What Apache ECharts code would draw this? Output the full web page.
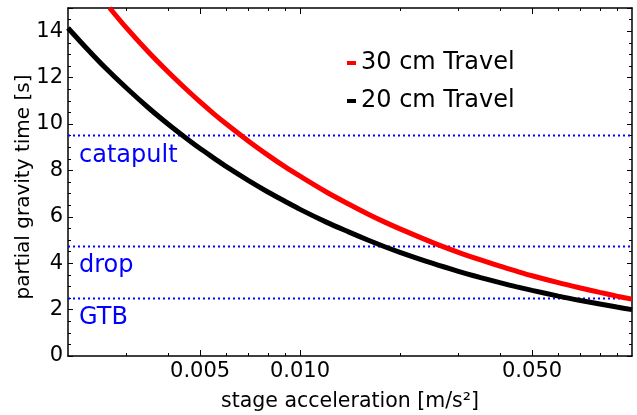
<!DOCTYPE html>
<html>
<head>
<meta charset="utf-8">
<script src="https://cdn.jsdelivr.net/npm/echarts@6/dist/echarts.min.js"></script>
<style>
  html, body { margin: 0; padding: 0; background: #fff; }
  #chart { width: 637px; height: 415px; }
</style>
</head>
<body>
<div id="chart"></div>
<script>
// stage acceleration [m/s^2] and partial gravity time [s]
const accel20 = [0.002, 0.0023, 0.0026, 0.003, 0.0035, 0.004, 0.0045, 0.005, 0.0055, 0.006, 0.007, 0.008, 0.009, 0.01, 0.012, 0.014, 0.016, 0.018, 0.02, 0.025, 0.03, 0.035, 0.04, 0.045, 0.05, 0.06, 0.07, 0.08, 0.09, 0.1];
const time20 = [14.14, 13.19, 12.40, 11.55, 10.69, 10.0, 9.43, 8.94, 8.53, 8.16, 7.56, 7.07, 6.67, 6.32, 5.77, 5.35, 5.0, 4.71, 4.47, 4.0, 3.65, 3.38, 3.16, 2.98, 2.83, 2.58, 2.39, 2.24, 2.11, 2.0];
const accel30 = [0.00267, 0.003, 0.0035, 0.004, 0.0045, 0.005, 0.0055, 0.006, 0.007, 0.008, 0.009, 0.01, 0.012, 0.014, 0.016, 0.018, 0.02, 0.025, 0.03, 0.035, 0.04, 0.045, 0.05, 0.06, 0.07, 0.08, 0.09, 0.1];
const time30 = [15.0, 14.14, 13.09, 12.25, 11.55, 10.95, 10.44, 10.0, 9.26, 8.66, 8.16, 7.75, 7.07, 6.55, 6.12, 5.77, 5.48, 4.90, 4.47, 4.14, 3.87, 3.65, 3.46, 3.16, 2.93, 2.74, 2.58, 2.45];

const refNames = ['catapult', 'drop', 'GTB'];
const refTimes = [9.5, 4.72, 2.48];

const xRange = [0.002, 0.1];
const yRange = [0, 15];
const xMajor = [0.005, 0.01, 0.05];
const xMinor = [0.003, 0.004, 0.006, 0.007, 0.008, 0.009, 0.02, 0.03, 0.04, 0.06, 0.07, 0.08, 0.09];
const xLabels = { 0.005: '0.005', 0.01: '0.010', 0.05: '0.050' };

const FONT = 'DejaVu Sans';

const chart = echarts.init(document.getElementById('chart'), null, { renderer: 'canvas' });

function pairs(xs, ys) {
    return xs.map((x, i) => [x, ys[i]]);
}

function xAxisDef(pos, ticks, len, isMain) {
    const labelled = isMain && pos === 'bottom';
    return {
        type: 'log',
        logBase: 10,
        position: pos,
        min: xRange[0],
        max: xRange[1],
        name: labelled ? 'stage acceleration [m/s²]' : '',
        nameLocation: 'middle',
        nameGap: 35,
        nameMoveOverlap: false,
        nameTextStyle: { fontFamily: FONT, fontSize: 20.5, color: '#000' },
        axisLine: { show: isMain, onZero: false, lineStyle: { color: '#000', width: 1.5 } },
        axisTick: { show: true, inside: true, length: len, customValues: ticks, lineStyle: { color: '#000', width: 1 } },
        minorTick: { show: false },
        splitLine: { show: false },
        axisLabel: {
            show: labelled,
            customValues: xMajor,
            formatter: v => xLabels[v] || '',
            fontFamily: FONT, fontSize: 21, color: '#000', margin: 5
        }
    };
}

function yAxisDef(pos, isMain) {
    return {
        type: 'value',
        position: pos,
        min: yRange[0],
        max: yRange[1],
        interval: 2,
        name: isMain ? 'partial gravity time [s]' : '',
        nameLocation: 'middle',
        nameGap: 34,
        nameMoveOverlap: false,
        nameTextStyle: { fontFamily: FONT, fontSize: 20, color: '#000', padding: [0, 10, 0, 0] },
        axisLine: { show: true, onZero: false, lineStyle: { color: '#000', width: 1.5 } },
        axisTick: { show: true, inside: true, length: 5, lineStyle: { color: '#000', width: 1 } },
        minorTick: { show: true, splitNumber: 4, length: 3, lineStyle: { color: '#000', width: 1 } },
        splitLine: { show: false },
        axisLabel: {
            show: isMain,
            showMaxLabel: false,
            fontFamily: FONT, fontSize: 21, color: '#000', margin: 5
        }
    };
}

const refSeries = refTimes.map((t, i) => ({
    name: refNames[i],
    type: 'line',
    data: [[xRange[0], t], [xRange[1], t]],
    symbol: 'none',
    silent: true,
    lineStyle: { color: '#0000ff', width: 2, type: [2, 3] },
    z: 1
}));

const option = {
    animation: false,
    backgroundColor: '#fff',
    textStyle: { fontFamily: FONT },
    grid: { left: 68, right: 5, top: 8, bottom: 59, containLabel: false, outerBoundsMode: 'none' },
    legend: {
        data: ['30 cm Travel', '20 cm Travel'],
        orient: 'vertical',
        left: 342,
        top: 46,
        icon: 'rect',
        itemWidth: 9,
        itemHeight: 4,
        itemGap: 14,
        textStyle: { fontFamily: FONT, fontSize: 24, color: '#000' }
    },
    xAxis: [
        xAxisDef('bottom', xMajor, 6, true),
        xAxisDef('bottom', xMinor, 3, false),
        xAxisDef('top', xMajor, 6, true),
        xAxisDef('top', xMinor, 3, false)
    ],
    yAxis: [
        yAxisDef('left', true),
        yAxisDef('right', false)
    ],
    series: [
        ...refSeries,
        {
            name: '20 cm Travel',
            type: 'line',
            data: pairs(accel20, time20),
            smooth: 0.3,
            symbol: 'none',
            lineStyle: { color: '#000', width: 5 },
            itemStyle: { color: '#000' },
            z: 3
        },
        {
            name: '30 cm Travel',
            type: 'line',
            data: pairs(accel30, time30),
            smooth: 0.3,
            symbol: 'none',
            lineStyle: { color: '#ff0000', width: 5 },
            itemStyle: { color: '#ff0000' },
            z: 4
        }
    ]
};

chart.setOption(option);

// text labels just below each reference line
const labelOffset = 0.85;
chart.setOption({
    graphic: refNames.map((name, i) => {
        const p = chart.convertToPixel({ xAxisIndex: 0, yAxisIndex: 0 }, [xRange[0], refTimes[i] - labelOffset]);
        return {
            type: 'text',
            left: p[0] + 11,
            top: p[1] - 12,
            style: { text: name, fill: '#0000ff', fontFamily: FONT, fontSize: 24 },
            z: 10
        };
    })
});
</script>
</body>
</html>
